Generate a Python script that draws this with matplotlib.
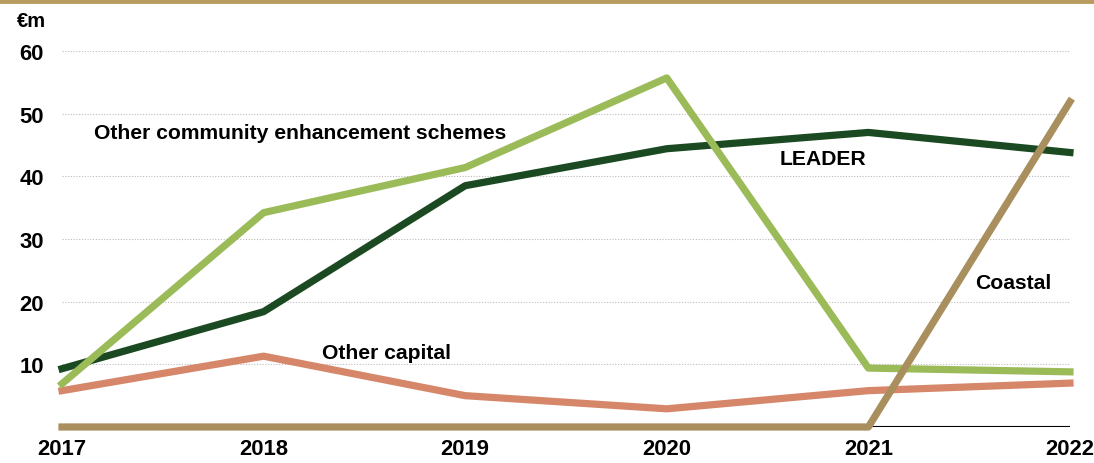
import matplotlib
matplotlib.use("Agg")
import matplotlib.pyplot as plt
from matplotlib.lines import Line2D

plt.rcParams["font.family"] = ["Liberation Sans", "DejaVu Sans"]
plt.rcParams["font.weight"] = "bold"

years = [2017, 2018, 2019, 2020, 2021, 2022]
leader = [9.3, 18.4, 38.5, 44.4, 47.0, 43.8]
other_community = [6.9, 34.2, 41.4, 55.7, 9.4, 8.8]
other_capital = [5.8, 11.3, 5.0, 2.9, 5.8, 7.0]
coastal = [0, 0, 0, 0, 0, 51.9]
yticks = [10, 20, 30, 40, 50, 60]

C_LEADER = "#1b4a22"
C_COMM = "#9bbb59"
C_CAP = "#d6876a"
C_COAST = "#a98f5e"
C_TOP = "#b89b5e"

fig = plt.figure(figsize=(10.94, 4.64), dpi=100)
ax = fig.add_axes([0.0567, 0.0776, 0.9213, 0.8104])

# gold rule across the top of the figure
fig.add_artist(Line2D([0, 1], [0.995, 0.995], transform=fig.transFigure,
                      color=C_TOP, lw=3.5))

for y in yticks:
    ax.axhline(y, color="#bbbbbb", lw=0.8, ls=(0, (1, 1.5)), zorder=1)
ax.axhline(0, color="black", lw=1.5, zorder=1)

lw = 5.2
ax.plot(years, other_capital, color=C_CAP, lw=lw, clip_on=False, zorder=3)
ax.plot(years, coastal, color=C_COAST, lw=lw, clip_on=False, zorder=4)
ax.plot(years, other_community, color=C_COMM, lw=lw, clip_on=False, zorder=3)
ax.plot(years, leader, color=C_LEADER, lw=lw, clip_on=False, zorder=2)

ax.set_xlim(2017, 2022)
ax.set_ylim(0, 60)
ax.set_yticks(yticks)
ax.set_xticks(years)
ax.tick_params(length=0, labelsize=15.8, pad=8)
ax.tick_params(axis="y", pad=13)
for s in ax.spines.values():
    s.set_visible(False)

fs = 15.2
ax.text(2018.18, 47.0, "Other community enhancement schemes", fontsize=fs,
        ha="center", va="center")
ax.text(2020.775, 42.8, "LEADER", fontsize=fs, ha="center", va="center")
ax.text(2021.72, 23.0, "Coastal", fontsize=fs, ha="center", va="center")
ax.text(2018.61, 11.9, "Other capital", fontsize=fs, ha="center", va="center")
fig.text(0.0155, 0.953, "€m", fontsize=14.5, ha="left", va="center")

fig.savefig("out.png", dpi=100)
